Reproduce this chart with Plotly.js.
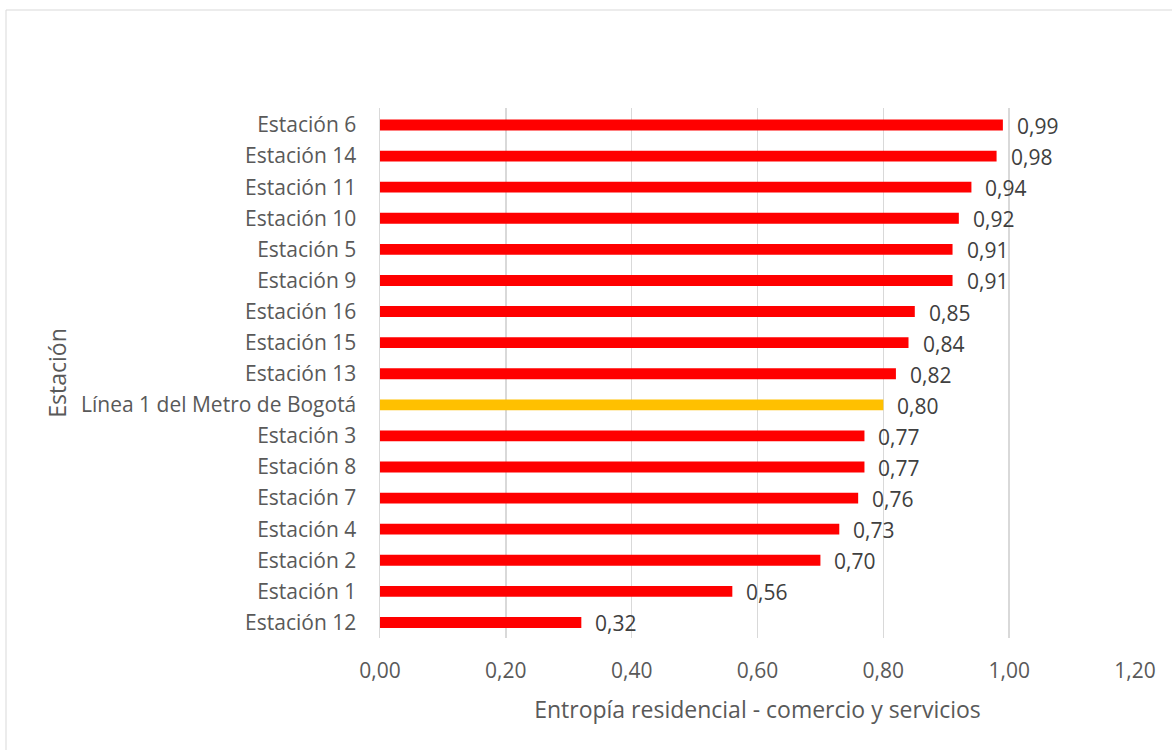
<!DOCTYPE html>
<html>
<head>
<meta charset="utf-8">
<script src="https://cdn.plot.ly/plotly-3.0.1.min.js"></script>
<style>
  html, body { margin: 0; padding: 0; background: #ffffff; }
  #chart { width: 1172px; height: 750px; }
</style>
</head>
<body>
<div id="chart"></div>
<script>
// Residential / commerce-services entropy per station, top to bottom
const stations = [
  "Estación 6", "Estación 14", "Estación 11", "Estación 10", "Estación 5",
  "Estación 9", "Estación 16", "Estación 15", "Estación 13",
  "Línea 1 del Metro de Bogotá",
  "Estación 3", "Estación 8", "Estación 7", "Estación 4", "Estación 2",
  "Estación 1", "Estación 12"
];
const entropy = [
  0.99, 0.98, 0.94, 0.92, 0.91,
  0.91, 0.85, 0.84, 0.82,
  0.80,
  0.77, 0.77, 0.76, 0.73, 0.70,
  0.56, 0.32
];
const lineName = "Línea 1 del Metro de Bogotá";
const xTicks = [0, 0.2, 0.4, 0.6, 0.8, 1.0, 1.2];

const FONT = "Open Sans, Calibri, Carlito, sans-serif";
const fmt = v => v.toFixed(2).replace(".", ",");

const barColors = stations.map(s => s === lineName ? "#FFC000" : "#FF0000");

const trace = {
  type: "bar",
  orientation: "h",
  x: entropy,
  y: stations,
  marker: { color: barColors },
  hoverinfo: "x+y"
};

// value labels just past the end of each bar
const valueLabels = stations.map((s, i) => ({
  x: entropy[i],
  y: s,
  xref: "x",
  yref: "y",
  text: fmt(entropy[i]),
  showarrow: false,
  xanchor: "left",
  yanchor: "middle",
  xshift: 12,
  yshift: -1,
  font: { family: FONT, size: 21, color: "#404040" }
}));

const layout = {
  width: 1172,
  height: 750,
  margin: { l: 380, r: 37, t: 108, b: 112 },
  paper_bgcolor: "#ffffff",
  plot_bgcolor: "#ffffff",
  bargap: 0.65,
  showlegend: false,
  font: { family: FONT, size: 21, color: "#595959" },
  xaxis: {
    range: [0, 1.2],
    tickvals: xTicks,
    ticktext: xTicks.map(fmt),
    showgrid: true,
    gridcolor: "#d9d9d9",
    gridwidth: 1.5,
    zeroline: false,
    showline: false,
    ticks: "",
    ticklabelstandoff: 18,
    tickfont: { family: FONT, size: 21, color: "#595959" },
    title: {
      text: "Entropía residencial - comercio y servicios",
      font: { family: FONT, size: 23, color: "#595959" },
      standoff: 18
    },
    fixedrange: true
  },
  yaxis: {
    type: "category",
    autorange: "reversed",
    showgrid: false,
    zeroline: false,
    showline: true,
    linecolor: "#d9d9d9",
    linewidth: 1.5,
    ticks: "",
    ticklabelstandoff: 18,
    tickfont: { family: FONT, size: 21, color: "#595959" },
    title: {
      text: "Estación",
      font: { family: FONT, size: 23, color: "#595959" },
      standoff: 8
    },
    fixedrange: true
  },
  annotations: valueLabels,
  shapes: [{
    type: "rect",
    xref: "paper", yref: "paper",
    x0: (6 - 380) / (1172 - 380 - 37),
    x1: (1180 - 380) / (1172 - 380 - 37),
    y0: (112 - 760) / (750 - 108 - 112),
    y1: (750 - 10 - 112) / (750 - 108 - 112),
    line: { color: "#d9d9d9", width: 1 },
    fillcolor: "rgba(0,0,0,0)",
    layer: "below"
  }]
};

Plotly.newPlot("chart", [trace], layout, { displayModeBar: false, staticPlot: true });
</script>
</body>
</html>
